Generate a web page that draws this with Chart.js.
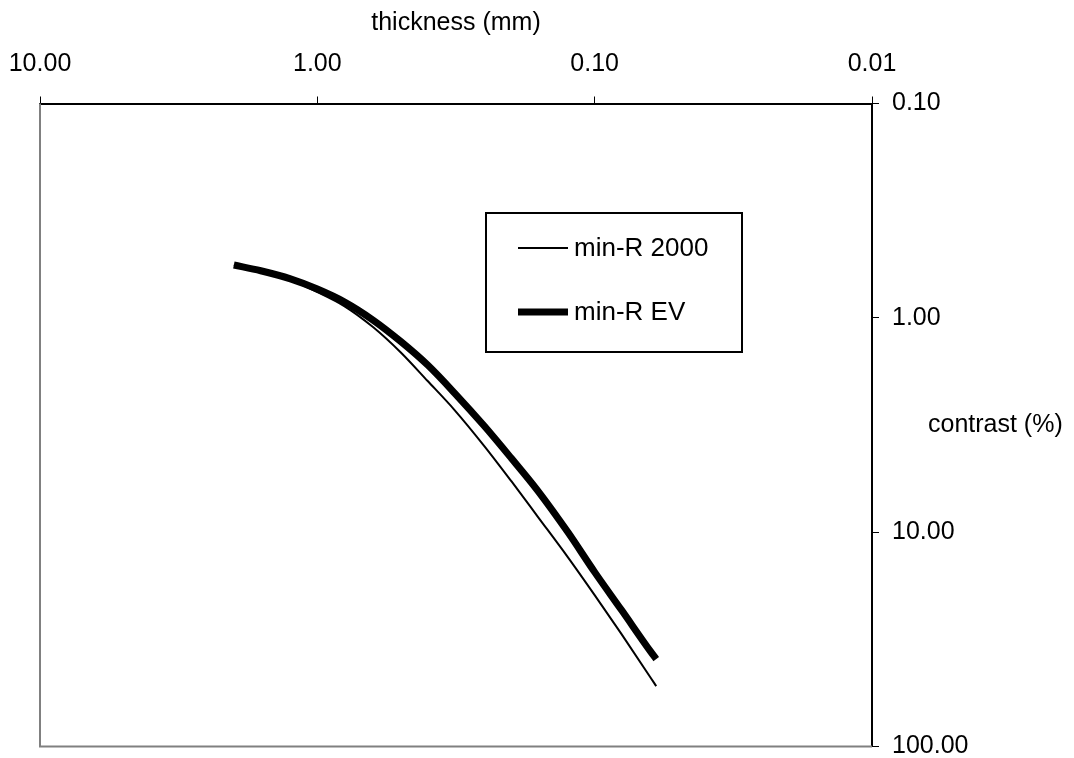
<!DOCTYPE html>
<html><head><meta charset="utf-8">
<script src="https://cdn.jsdelivr.net/npm/chart.js@4.4.1/dist/chart.umd.min.js"></script>
<style>html,body{margin:0;padding:0;background:#fff;} #wrap{width:1074px;height:758px;position:relative;}</style>
</head><body><div id="wrap"><canvas id="c"></canvas></div>
<script>
const thickness = [2.0, 1.6, 1.25, 1.0, 0.8, 0.63, 0.5, 0.4, 0.32, 0.25, 0.2, 0.16, 0.125, 0.1, 0.08, 0.063, 0.06];
const contrastMinR2000 = [0.567, 0.603, 0.666, 0.758, 0.881, 1.104, 1.451, 1.972, 2.693, 3.965, 5.77, 8.50, 13.07, 19.66, 29.9, 47.5, 52.3];
const contrastMinREV = [0.567, 0.603, 0.658, 0.734, 0.842, 1.024, 1.290, 1.661, 2.243, 3.198, 4.51, 6.43, 9.99, 15.36, 23.1, 35.9, 39.1];
const seriesNames = ['min-R 2000', 'min-R EV'];
const xTickValues = [10, 1, 0.1, 0.01];
const yTickValues = [0.1, 1, 10, 100];
const xTitle = 'thickness (mm)';
const yTitle = 'contrast (%)';

const FONT = "'Liberation Sans', Arial, Helvetica, sans-serif";
Chart.defaults.font.family = FONT;
Chart.defaults.color = '#000';

const toPts = (ys) => thickness.map((t, i) => ({x: t, y: ys[i]}));

const framePlugin = {
  id: 'frame',
  beforeDatasetsDraw(chart) {
    const {ctx, chartArea: a} = chart;
    ctx.save();
    ctx.strokeStyle = '#808080';
    ctx.lineWidth = 2;
    ctx.beginPath();
    ctx.moveTo(a.left, a.top);
    ctx.lineTo(a.left, a.bottom);
    ctx.lineTo(a.right, a.bottom);
    ctx.stroke();
    ctx.restore();
  }
};

const sideTitlePlugin = {
  id: 'sideTitle',
  afterDraw(chart) {
    const {ctx, chartArea: a} = chart;
    ctx.save();
    ctx.font = '25px ' + FONT;
    ctx.fillStyle = '#000';
    ctx.textAlign = 'left';
    ctx.textBaseline = 'middle';
    ctx.fillText(yTitle, a.right + 56, (a.top + a.bottom) / 2);
    ctx.restore();
  }
};

const legendBoxPlugin = {
  id: 'legendBox',
  afterDraw(chart) {
    const {ctx} = chart;
    const bx = 486, by = 213, bw = 256, bh = 139;
    ctx.save();
    ctx.fillStyle = '#fff';
    ctx.fillRect(bx, by, bw, bh);
    ctx.strokeStyle = '#000';
    ctx.lineWidth = 2;
    ctx.strokeRect(bx, by, bw, bh);
    const rows = [248, 312];
    chart.data.datasets.forEach((ds, i) => {
      const y = rows[i];
      ctx.strokeStyle = ds.borderColor;
      ctx.lineWidth = ds.borderWidth;
      ctx.lineCap = 'butt';
      ctx.beginPath();
      ctx.moveTo(518, y);
      ctx.lineTo(568, y);
      ctx.stroke();
      ctx.fillStyle = '#000';
      ctx.font = '26px ' + FONT;
      ctx.textAlign = 'left';
      ctx.textBaseline = 'middle';
      ctx.fillText(ds.label, 574, y + 1);
    });
    ctx.restore();
  }
};

new Chart(document.getElementById('c'), {
  type: 'line',
  data: {
    datasets: [
      {label: seriesNames[0], data: toPts(contrastMinR2000), borderColor: '#000', borderWidth: 2, pointRadius: 0, tension: 0, cubicInterpolationMode: 'monotone', fill: false},
      {label: seriesNames[1], data: toPts(contrastMinREV), borderColor: '#000', borderWidth: 7, pointRadius: 0, tension: 0, cubicInterpolationMode: 'monotone', fill: false, borderCapStyle: 'butt'}
    ]
  },
  options: {
    responsive: true,
    maintainAspectRatio: false,
    animation: false,
    devicePixelRatio: 1,
    layout: {autoPadding: false, padding: {left: 40, right: 0, top: 0, bottom: 11.5}},
    plugins: {legend: {display: false}, tooltip: {enabled: false}},
    scales: {
      x: {
        type: 'logarithmic',
        position: 'top',
        reverse: true,
        min: 0.01, max: 10,
        afterBuildTicks: (s) => { s.ticks = xTickValues.map(v => ({value: v})); },
        afterFit: (s) => { s.height = 103.5; s.paddingLeft = 0; s.paddingRight = 0; },
        ticks: {autoSkip: false, maxRotation: 0, padding: 17, font: {size: 25}, color: '#000',
          callback: (v) => Number(v).toFixed(2)},
        grid: {drawOnChartArea: false, drawTicks: true, tickLength: 7, color: '#000', lineWidth: 1},
        border: {display: true, color: '#000', width: 2},
        title: {display: true, text: xTitle, font: {size: 25}, color: '#000', padding: {top: 8, bottom: 0}}
      },
      y: {
        type: 'logarithmic',
        position: 'right',
        reverse: true,
        min: 0.1, max: 100,
        afterBuildTicks: (s) => { s.ticks = yTickValues.map(v => ({value: v})); },
        afterFit: (s) => { s.width = 202; s.paddingTop = 0; s.paddingBottom = 0; },
        ticks: {autoSkip: false, padding: 13, font: {size: 25}, color: '#000',
          callback: (v) => Number(v).toFixed(2)},
        grid: {drawOnChartArea: false, drawTicks: true, tickLength: 7, color: '#000', lineWidth: 1},
        border: {display: true, color: '#000', width: 2},
        title: {display: false}
      }
    }
  },
  plugins: [framePlugin, sideTitlePlugin, legendBoxPlugin]
});
</script>
</body></html>
